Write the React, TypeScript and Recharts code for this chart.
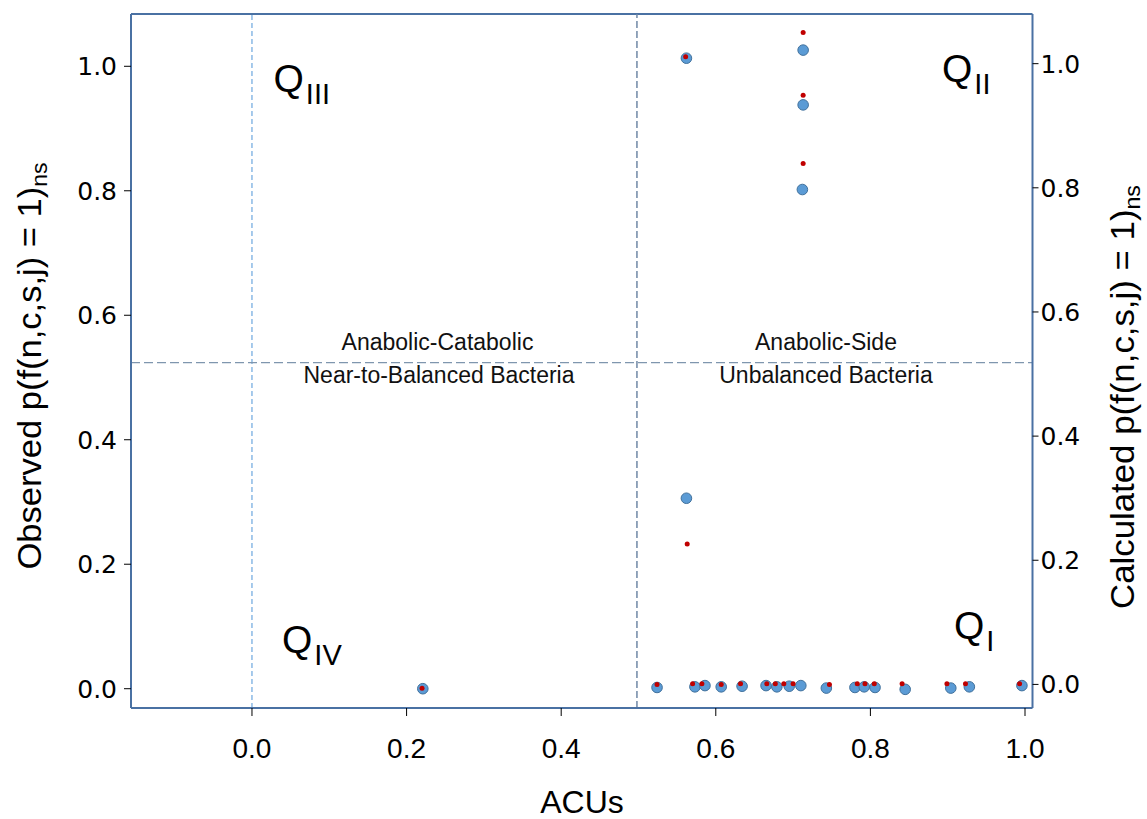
import React from "react"
import { ScatterChart, Scatter, XAxis, YAxis, ReferenceLine } from "recharts"

const observedAcus = [
  0.562, 0.713, 0.713, 0.712, 0.562, 0.221,
  0.524, 0.573, 0.586, 0.607, 0.634, 0.665, 0.679, 0.695, 0.71,
  0.743, 0.78, 0.792, 0.806, 0.845, 0.904, 0.928, 0.996,
]
const observedP = [
  1.013, 1.026, 0.938, 0.802, 0.306, 0.0,
  0.002, 0.003, 0.005, 0.003, 0.004, 0.005, 0.003, 0.004, 0.005,
  0.001, 0.002, 0.003, 0.002, -0.001, 0.001, 0.003, 0.005,
]
const calculatedAcus = [
  0.561, 0.713, 0.713, 0.713, 0.563, 0.22,
  0.524, 0.57, 0.582, 0.607, 0.632, 0.666, 0.677, 0.688, 0.7,
  0.747, 0.783, 0.793, 0.805, 0.841, 0.899, 0.923, 0.993,
]
const calculatedP = [
  1.011, 1.05, 0.949, 0.839, 0.226, -0.006,
  0.0, 0.001, 0.001, 0.0, 0.001, 0.001, 0.001, 0.001, 0.001,
  0.0, 0.001, 0.001, 0.001, 0.001, 0.001, 0.001, 0.001,
]
const xTicks = [0, 0.2, 0.4, 0.6, 0.8, 1.0]
const yTicks = [0, 0.2, 0.4, 0.6, 0.8, 1.0]

const observed = observedAcus.map((x, i) => ({ x, y: observedP[i] }))
const calculated = calculatedAcus.map((x, i) => ({ x, y: calculatedP[i] }))

const frame = "#4a71a3"
const sans = "'Liberation Sans', Arial, sans-serif"
const fmt = (v: number) => v.toFixed(1)

const BlueDot = (p: any) => (
  <circle cx={p.cx} cy={p.cy} r={5.3} fill="#5b9bd5" stroke="#41719c" strokeWidth={1} />
)
const RedDot = (p: any) => <circle cx={p.cx} cy={p.cy} r={2.5} fill="#c00000" />

function Quadrant({ x, y, sub }: { x: number; y: number; sub: string }) {
  return (
    <text x={x} y={y} fontFamily={sans} fontSize={39} fill="#000">
      Q
      <tspan fontSize={29} dx={2} dy={12}>
        {sub}
      </tspan>
    </text>
  )
}

export default function App() {
  return (
    <div style={{ position: "absolute", left: 0, top: 0, width: 1147, height: 819, background: "#fff" }}>
      <ScatterChart width={1147} height={819} margin={{ top: 14, right: 0, bottom: 0, left: 0 }}>
        <XAxis
          type="number"
          dataKey="x"
          domain={[-0.1565, 1.0097]}
          ticks={xTicks}
          allowDataOverflow
          height={111}
          tickSize={8}
          tickMargin={22}
          tickFormatter={fmt}
          axisLine={{ stroke: frame, strokeWidth: 2 }}
          tickLine={{ stroke: "#000" }}
          tick={{ fontFamily: sans, fontSize: 28, fill: "#000" }}
        />
        <YAxis
          yAxisId="left"
          type="number"
          dataKey="y"
          domain={[-0.031, 1.084]}
          ticks={yTicks}
          allowDataOverflow
          width={131}
          tickSize={7}
          tickMargin={7}
          tickFormatter={fmt}
          axisLine={{ stroke: frame, strokeWidth: 2 }}
          tickLine={{ stroke: "#000" }}
          tick={{ fontFamily: "'DejaVu Sans', sans-serif", fontSize: 25, fill: "#000" }}
        />
        <YAxis
          yAxisId="right"
          orientation="right"
          type="number"
          dataKey="y"
          domain={[-0.038, 1.08]}
          ticks={yTicks}
          allowDataOverflow
          width={114.5}
          tickSize={6}
          tickMargin={2}
          tickFormatter={fmt}
          axisLine={{ stroke: frame, strokeWidth: 2 }}
          tickLine={{ stroke: "#000" }}
          tick={{ fontFamily: "'DejaVu Sans', sans-serif", fontSize: 25, fill: "#000" }}
        />
        <ReferenceLine yAxisId="left" y={1.084} stroke={frame} strokeWidth={2} />
        <ReferenceLine yAxisId="left" x={0} stroke="#4f95d8" strokeWidth={1} strokeDasharray="5 3" />
        <ReferenceLine yAxisId="left" x={0.498} stroke="#6f88a6" strokeWidth={1.5} strokeDasharray="7 3" />
        <ReferenceLine yAxisId="left" y={0.524} stroke="#7f96ae" strokeWidth={1.2} strokeDasharray="9 4" />
        <Scatter yAxisId="left" data={observed} shape={BlueDot} isAnimationActive={false} />
        <Scatter yAxisId="right" data={calculated} shape={RedDot} isAnimationActive={false} />
      </ScatterChart>
      <svg
        width={1147}
        height={819}
        style={{ position: "absolute", left: 0, top: 0, pointerEvents: "none" }}
      >
        <Quadrant x={273.5} y={92} sub="III" />
        <Quadrant x={942} y={82} sub="II" />
        <Quadrant x={282} y={653} sub="IV" />
        <Quadrant x={954} y={639} sub="I" />
        <g fontFamily={sans} fontSize={23} fill="#111" textAnchor="middle">
          <text x={437.5} y={350}>Anabolic-Catabolic</text>
          <text x={439} y={383}>Near-to-Balanced Bacteria</text>
          <text x={826} y={350}>Anabolic-Side</text>
          <text x={826} y={383}>Unbalanced Bacteria</text>
        </g>
        <text x={582} y={813} fontFamily={sans} fontSize={32} textAnchor="middle" fill="#000">
          ACUs
        </text>
        <text
          transform="translate(41,366) rotate(-90)"
          fontFamily={sans}
          fontSize={33}
          textAnchor="middle"
          fill="#000"
          textLength={407}
          lengthAdjust="spacingAndGlyphs"
        >
          Observed p(f(n,c,s,j) = 1)
          <tspan fontSize={22} dy={6}>ns</tspan>
        </text>
        <text
          transform="translate(1134,397) rotate(-90)"
          fontFamily={sans}
          fontSize={33}
          textAnchor="middle"
          fill="#000"
          textLength={424}
          lengthAdjust="spacingAndGlyphs"
        >
          Calculated p(f(n,c,s,j) = 1)
          <tspan fontSize={22} dy={6}>ns</tspan>
        </text>
      </svg>
    </div>
  )
}
